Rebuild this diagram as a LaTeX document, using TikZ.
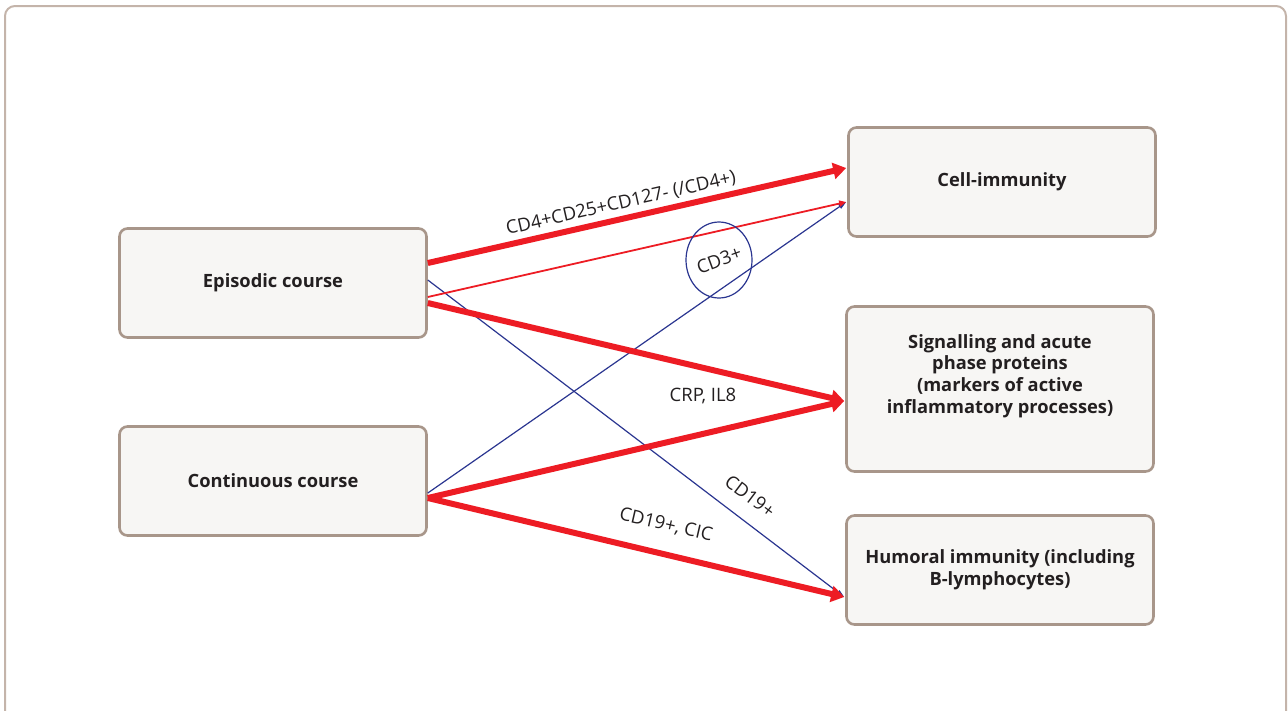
\documentclass[tikz,border=0pt]{standalone}
\usepackage{fontspec}
\setmainfont{Open Sans}
\usetikzlibrary{arrows.meta,shapes.geometric,calc}
\definecolor{boxfill}{HTML}{F7F6F4}
\definecolor{boxline}{HTML}{A8968A}
\definecolor{frameline}{HTML}{C4B4AA}
\definecolor{myred}{HTML}{ED1C24}
\definecolor{myblue}{HTML}{2A3590}
\definecolor{txt}{HTML}{231F20}
\begin{document}
\begin{tikzpicture}[x=1pt,y=-1pt,
  box/.style={draw=boxline,fill=boxfill,line width=2.6pt,rounded corners=8pt,
    minimum width=307pt,minimum height=109pt,inner sep=0pt,align=center,
    font=\fontsize{18.3}{21.7}\selectfont\bfseries,text=txt},
  boxtext/.style={align=center,inner sep=0pt,font=\fontsize{18.3}{21.7}\selectfont\bfseries,text=txt},
  thickred/.style={draw=myred,line width=6pt,-{Triangle[length=13pt,width=16pt]}},
  thinred/.style={draw=myred,line width=1.8pt,-{Triangle[length=7pt,width=6pt]}},
  thinblue/.style={draw=myblue,line width=1.2pt,-{Triangle[length=8pt,width=5pt]}},
  lbl/.style={font=\fontsize{18.5}{22}\selectfont,text=txt,inner sep=1pt}]
\useasboundingbox (0,0) rectangle (1288,710);
\draw[frameline,line width=2pt,rounded corners=10pt] (5,720) -- (5,6) -- (1286,6) -- (1286,720);
\node[box] (ep) at (273,283) {Episodic course};
\node[box] (co) at (273,481) {Continuous course};
\node[box] (ce) at (1002,182) {Cell-immunity};
\node[box,minimum height=165pt] (si) at (1000,389) {};
\node[boxtext] (sit) at (1000,376) {Signalling and acute\\phase proteins\\(markers of active\\inflammatory processes)};
\node[box] (hu) at (1000,570) {Humoral immunity (including\\B-lymphocytes)};
% start/end points
\coordinate (e1) at ([yshift=20pt]ep.east);
\coordinate (e2) at ([yshift=3pt]ep.east);
\coordinate (e3) at ([yshift=-14pt]ep.east);
\coordinate (e4) at ([yshift=-20pt]ep.east);
\coordinate (c1) at ([yshift=-12pt]co.east);
\coordinate (c2) at ([yshift=-17pt]co.east);
\coordinate (t1) at ([xshift=-1pt,yshift=14pt]ce.west);
\coordinate (t2) at ([xshift=-1pt,yshift=-20pt]ce.west);
\coordinate (s1) at ([xshift=-1pt,yshift=-12pt]si.west);
\coordinate (h1) at ([xshift=-1pt,yshift=-27pt]hu.west);
% connectors
\draw[thinblue] (e2) -- (h1);
\draw[thinblue] (c1) -- (t2);
\draw[thickred] (e1) -- (t1) node[lbl,pos=0.47,above=3pt,sloped] {CD4+CD25+CD127- (/CD4+)};
\draw[thinred] (e3) -- (t2);
\draw[thickred] (e4) -- (s1);
\draw[thickred] (c2) -- (s1);
\draw[thickred] (c2) -- (h1);
% labels
\node[draw=myblue,line width=1.2pt,ellipse,minimum width=66pt,minimum height=76pt,inner sep=0pt] (cd3) at (719,260) {};
\node[lbl,rotate=20] (cd3t) at (cd3.center) {CD3+};
\node[lbl] (crp) at (703,396) {CRP, IL8};
\node[lbl,rotate=-37] (cd19) at (750,496) {CD19+};
\node[lbl,rotate=-13] (cic) at (666,525) {CD19+, CIC};
\end{tikzpicture}
\end{document}
